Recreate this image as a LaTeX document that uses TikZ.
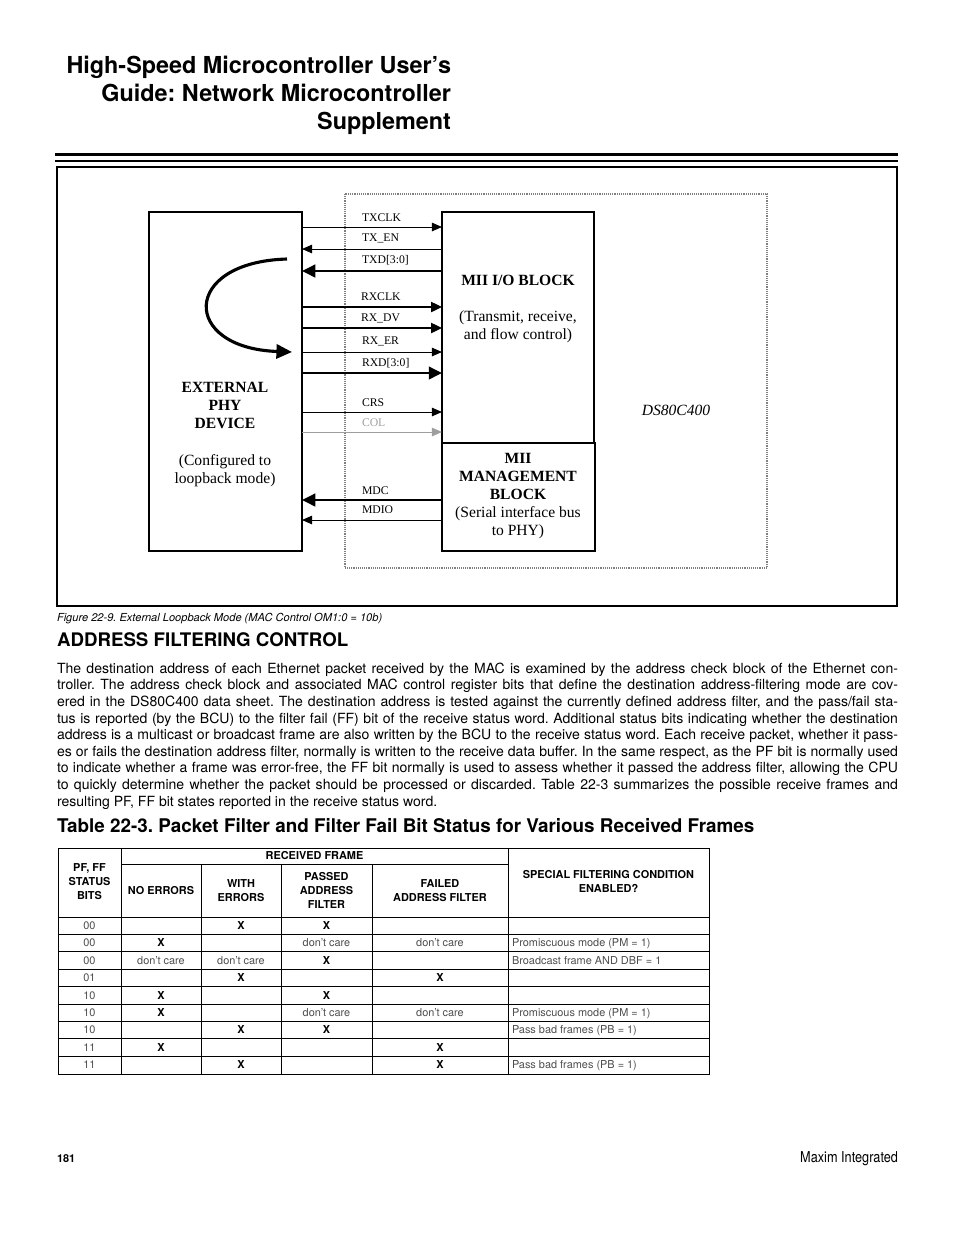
\documentclass[tikz,border=0pt]{standalone}
\usepackage{fontspec}
\setmainfont{TeX Gyre Heros}
\newfontfamily\seriffont{Liberation Serif}
\newfontfamily\narrowfont[FakeStretch=0.85]{TeX Gyre Heros}
\usetikzlibrary{arrows.meta}
\frenchspacing
\newlength{\px}
\setlength{\px}{0.6415pt}
\definecolor{dotgray}{gray}{0.5}
\definecolor{colgray}{gray}{0.62}
\definecolor{cellgray}{gray}{0.3}
\newcommand{\tX}{\textbf{\color{black}X}}
\newcommand{\dc}{don’t care}
\newcommand{\bodyline}[1]{\makebox[841\px][s]{#1}}
\tikzset{
    every node/.style={inner sep=0pt, outer sep=0pt},
    block/.style={rectangle, draw=black, line width=0.8pt, anchor=north west},
    blocktext/.style={align=center, font=\seriffont\fontsize{10}{11.55}\selectfont},
    siglabel/.style={anchor=base west, font=\seriffont\fontsize{7.5}{9}\selectfont},
    thinarrow/.style={-{Triangle[length=6.5pt,width=5.5pt]}, line width=0.6pt},
    midarrow/.style={-{Triangle[length=7pt,width=6.5pt]}, line width=1.1pt},
    thickarrow/.style={-{Triangle[length=8.5pt,width=8pt]}, line width=1.8pt},
    loopback/.style={-{Triangle[length=10pt,width=9pt]}, line width=2pt},
    bodytext/.style={anchor=base west, font=\fontsize{9}{10.7}\selectfont},
    hdcell/.style={align=center, font=\bfseries\fontsize{7}{9}\selectfont},
    cell/.style={font=\fontsize{7}{9}\selectfont, text=cellgray, text height=5.2pt, text depth=1.6pt},
    tablerule/.style={line width=0.5pt}
}
\begin{document}
\begin{tikzpicture}[x=\px, y=-\px]
    \useasboundingbox (0,0) rectangle (954,1235);
    % page title
    \node[anchor=base east, font=\bfseries\fontsize{15}{18}\selectfont] (title1) at (451,73) {High-Speed Microcontroller User’s};
    \node[anchor=base east, font=\bfseries\fontsize{15}{18}\selectfont] (title2) at (451,101) {Guide: Network Microcontroller};
    \node[anchor=base east, font=\bfseries\fontsize{15}{18}\selectfont] (title3) at (451,129) {Supplement};
    \draw[line width=2.4pt] (55,154.5) -- (898,154.5);
    \draw[line width=0.8pt] (55,161) -- (898,161);

    % figure frame
    \node[block, minimum width=840\px, minimum height=439\px] (frame) at (57,167) {};
    \draw[dotgray, line width=0.7pt, dash pattern=on 0.6pt off 0.6pt] (345,194) rectangle (767,568);
    \node[block, line width=0.9pt, minimum width=153\px, minimum height=339\px] (phy) at (149,212) {};
    \node[block, minimum width=152\px, minimum height=231\px] (mio) at (442,212) {};
    \node[block, minimum width=153\px, minimum height=108\px] (mgmt) at (442,443) {};

    \node[blocktext] (phytext) at (225,434.5) {\textbf{EXTERNAL}\\\textbf{PHY}\\\textbf{DEVICE}\\[11.55pt](Configured to\\loopback mode)};
    \node[blocktext] (miotext) at (518,309) {\textbf{MII I/O BLOCK}\\[11.55pt](Transmit, receive,\\and flow control)};
    \node[blocktext] (mgmttext) at (518,496) {\textbf{MII}\\\textbf{MANAGEMENT}\\\textbf{BLOCK}\\(Serial interface bus\\to PHY)};
    \node[font=\seriffont\itshape\fontsize{10}{12}\selectfont] (chip) at (676,410) {DS80C400};

    % MII signals
    \draw[thinarrow] (phy.east |- 0,227) -- (mio.west |- 0,227);
    \draw[thinarrow] (mio.west |- 0,249) -- (phy.east |- 0,249);
    \draw[thickarrow] (mio.west |- 0,271) -- (phy.east |- 0,271);
    \draw[midarrow] (phy.east |- 0,307) -- (mio.west |- 0,307);
    \draw[midarrow] (phy.east |- 0,328) -- (mio.west |- 0,328);
    \draw[thinarrow] (phy.east |- 0,352) -- (mio.west |- 0,352);
    \draw[thickarrow] (phy.east |- 0,373) -- (mio.west |- 0,373);
    \draw[thinarrow] (phy.east |- 0,412) -- (mio.west |- 0,412);
    \draw[thinarrow, colgray] (phy.east |- 0,432) -- (mio.west |- 0,432);
    \draw[thickarrow] (mgmt.west |- 0,500) -- (phy.east |- 0,500);
    \draw[thinarrow, {Triangle[length=6.5pt,width=5.5pt]}-] (phy.east |- 0,520) -- (mgmt.west |- 0,520);

    \node[siglabel] (ltxclk) at (362,221) {TXCLK};
    \node[siglabel] (ltxen) at (362,241) {TX\_EN};
    \node[siglabel] (ltxd) at (362,263) {TXD[3:0]};
    \node[siglabel] (lrxclk) at (361,300) {RXCLK};
    \node[siglabel] (lrxdv) at (361,321) {RX\_DV};
    \node[siglabel] (lrxer) at (362,344) {RX\_ER};
    \node[siglabel] (lrxd) at (362,366) {RXD[3:0]};
    \node[siglabel] (lcrs) at (362,406) {CRS};
    \node[siglabel, text=colgray] (lcol) at (362,426) {COL};
    \node[siglabel] (lmdc) at (362,494) {MDC};
    \node[siglabel] (lmdio) at (362,513) {MDIO};

    % loopback inside the PHY
    \coordinate (loopstart) at (287,259);
    \coordinate (loopend) at (292,352);
    \draw[loopback] (loopstart) .. controls (181,262) and (181,348) .. (loopend);

    % caption and text
    \node[anchor=base west, font=\itshape\fontsize{7.1}{8.5}\selectfont] (caption) at (57,621.7) {Figure 22-9. External Loopback Mode (MAC Control OM1:0 = 10b)};
    \node[anchor=base west, font=\bfseries\fontsize{12}{14}\selectfont] (heading) at (57,646.7) {ADDRESS FILTERING CONTROL};
    \node[bodytext] (line1) at (57,673.3) {\bodyline{The destination address of each Ethernet packet received by the MAC is examined by the address check block of the Ethernet con-}};
    \node[bodytext] (line2) at (57,689.9) {\bodyline{troller. The address check block and associated MAC control register bits that define the destination address-filtering mode are cov-}};
    \node[bodytext] (line3) at (57,706.5) {\bodyline{ered in the DS80C400 data sheet. The destination address is tested against the currently defined address filter, and the pass/fail sta-}};
    \node[bodytext] (line4) at (57,723.1) {\bodyline{tus is reported (by the BCU) to the filter fail (FF) bit of the receive status word. Additional status bits indicating whether the destination}};
    \node[bodytext] (line5) at (57,739.7) {\bodyline{address is a multicast or broadcast frame are also written by the BCU to the receive status word. Each receive packet, whether it pass-}};
    \node[bodytext] (line6) at (57,756.3) {\bodyline{es or fails the destination address filter, normally is written to the receive data buffer. In the same respect, as the PF bit is normally used}};
    \node[bodytext] (line7) at (57,772.9) {\bodyline{to indicate whether a frame was error-free, the FF bit normally is used to assess whether it passed the address filter, allowing the CPU}};
    \node[bodytext] (line8) at (57,789.5) {\bodyline{to quickly determine whether the packet should be processed or discarded. Table 22-3 summarizes the possible receive frames and}};
    \node[bodytext] (line9) at (57,806.1) {resulting PF, FF bit states reported in the receive status word.};

    % table 22-3
    \node[anchor=base west, font=\bfseries\fontsize{12.1}{14}\selectfont] (tabtitle) at (57,832.3) {Table 22-3. Packet Filter and Filter Fail Bit Status for Various Received Frames};
    \draw[tablerule] (58,848) rectangle (709,1074);
    \draw[tablerule] (121,848) -- (121,1074);
    \draw[tablerule] (508,848) -- (508,1074);
    \draw[tablerule] (121,864) -- (508,864);
    \foreach \cx in {201,281,372}
        \draw[tablerule] (\cx,864) -- (\cx,1074);
    \foreach \k in {0,...,8}
        \draw[tablerule] (58,{917+17.4*\k}) -- (709,{917+17.4*\k});

    \node[hdcell] (hbits) at (89.5,881.5) {PF, FF\\STATUS\\BITS};
    \node[hdcell] (hframe) at (314.5,856) {RECEIVED FRAME};
    \node[hdcell] (hnoerr) at (161,890.5) {NO ERRORS};
    \node[hdcell] (hwitherr) at (241,890.5) {WITH\\ERRORS};
    \node[hdcell] (hpassed) at (326.5,890.5) {PASSED\\ADDRESS\\FILTER};
    \node[hdcell] (hfailed) at (440,890.5) {FAILED\\ADDRESS FILTER};
    \node[hdcell] (hspecial) at (608.5,881.5) {SPECIAL FILTERING CONDITION\\ENABLED?};

    \foreach \i/\bits/\ca/\cb/\cc/\cd/\ce in {
        1/00//\tX/\tX//,
        2/00/\tX//\dc/\dc/Promiscuous mode (PM = 1),
        3/00/\dc/\dc/\tX//Broadcast frame AND DBF = 1,
        4/01//\tX//\tX/,
        5/10/\tX//\tX//,
        6/10/\tX//\dc/\dc/Promiscuous mode (PM = 1),
        7/10//\tX/\tX//Pass bad frames (PB = 1),
        8/11/\tX///\tX/,
        9/11//\tX//\tX/Pass bad frames (PB = 1)}{
        \node[cell] (bits-\i) at (89.5,{909.2+17.4*\i}) {\bits};
        \node[cell] (noerr-\i) at (161,{909.2+17.4*\i}) {\ca};
        \node[cell] (witherr-\i) at (241,{909.2+17.4*\i}) {\cb};
        \node[cell] (passed-\i) at (326.5,{909.2+17.4*\i}) {\cc};
        \node[cell] (failed-\i) at (440,{909.2+17.4*\i}) {\cd};
        \node[cell, anchor=west] (special-\i) at (512,{909.2+17.4*\i}) {\ce};
    }

    % footer
    \node[anchor=base west, font=\bfseries\fontsize{7}{8}\selectfont] (pagenum) at (57,1162) {181};
    \node[anchor=base east, font=\narrowfont\fontsize{9.6}{11}\selectfont] (maker) at (898,1162) {Maxim Integrated};
\end{tikzpicture}
\end{document}
